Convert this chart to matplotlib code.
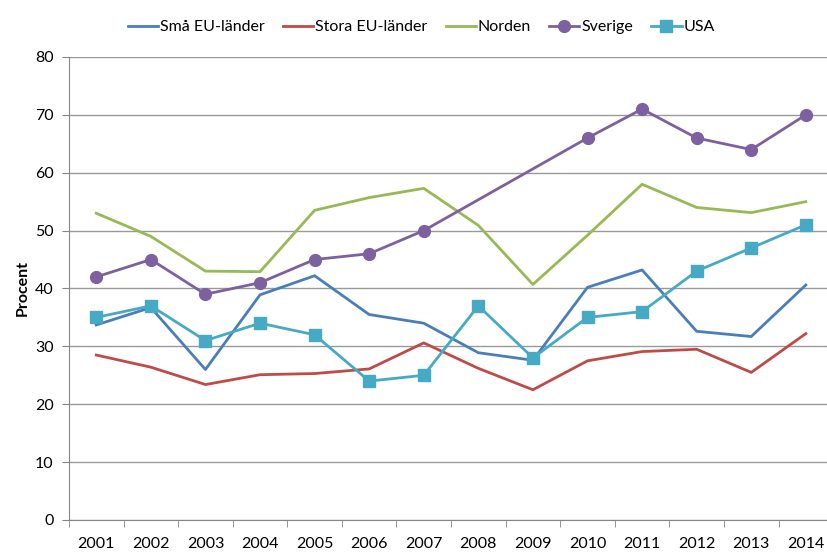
import numpy as np
import matplotlib.pyplot as plt

plt.rcParams['font.family'] = ['Lato', 'DejaVu Sans']

years = ['2001', '2002', '2003', '2004', '2005', '2006', '2007',
         '2008', '2009', '2010', '2011', '2012', '2013', '2014']

sma_eu = [33.7, 36.7, 26.0, 38.9, 42.2, 35.5, 34.0, 28.9, 27.6, 40.2, 43.2, 32.6, 31.7, 40.6]
stora_eu = [28.5, 26.4, 23.4, 25.1, 25.3, 26.1, 30.6, 26.2, 22.5, 27.5, 29.1, 29.5, 25.5, 32.2]
norden = [53.0, 49.0, 43.0, 42.9, 53.5, 55.7, 57.3, 50.9, 40.7, 49.2, 58.0, 54.0, 53.1, 55.0]
sverige = [42, 45, 39, 41, 45, 46, 50, np.nan, np.nan, 66, 71, 66, 64, 70]
usa = [35, 37, 31, 34, 32, 24, 25, 37, 28, 35, 36, 43, 47, 51]

fig = plt.figure(figsize=(8.27, 5.52), dpi=100)
ax = fig.add_axes([0.0834, 0.058, 0.924, 0.8388])

x = np.arange(len(years))
sv = np.array(sverige, dtype=float)
ok = ~np.isnan(sv)

ax.plot(x, sma_eu, color='#4A7EBB', lw=2, label='Små EU-länder')
ax.plot(x, stora_eu, color='#BE4B48', lw=2, label='Stora EU-länder')
ax.plot(x, norden, color='#98B954', lw=2, label='Norden')
# 2008-2009 saknas, linjen dras rakt över
ax.plot(x[ok], sv[ok], color='#7D60A0', lw=2, marker='o', ms=8.5, label='Sverige')
ax.plot(x, usa, color='#46AAC5', lw=2, marker='s', ms=8.5, label='USA')

ax.set_xlim(-0.5, len(years) - 0.5)
ax.set_ylim(0, 80)
ax.set_yticks(range(0, 81, 10))
ax.set_xticks(x)
ax.set_xticklabels(years)
ax.set_xticks(np.arange(-0.5, len(years), 1), minor=True)
ax.tick_params(axis='x', which='major', length=0, pad=12, labelsize=11.5)
ax.tick_params(axis='x', which='minor', length=5, color='#868686')
ax.tick_params(axis='y', length=5, color='#868686', labelsize=11.5, pad=6)

ax.grid(axis='y', color='#999999', lw=1)
ax.set_axisbelow(True)
for s in ['top', 'right']:
    ax.spines[s].set_visible(False)
for s in ['left', 'bottom']:
    ax.spines[s].set_color('#868686')

ax.set_ylabel('Procent', fontsize=11.5, fontweight='bold', labelpad=4)

ax.legend(loc='lower center', bbox_to_anchor=(0.461, 1.035), ncol=5, frameon=False,
          fontsize=11.5, handlelength=1.9, handletextpad=0.1, columnspacing=1.15,
          borderaxespad=0)

fig.savefig('out.png', dpi=100)
